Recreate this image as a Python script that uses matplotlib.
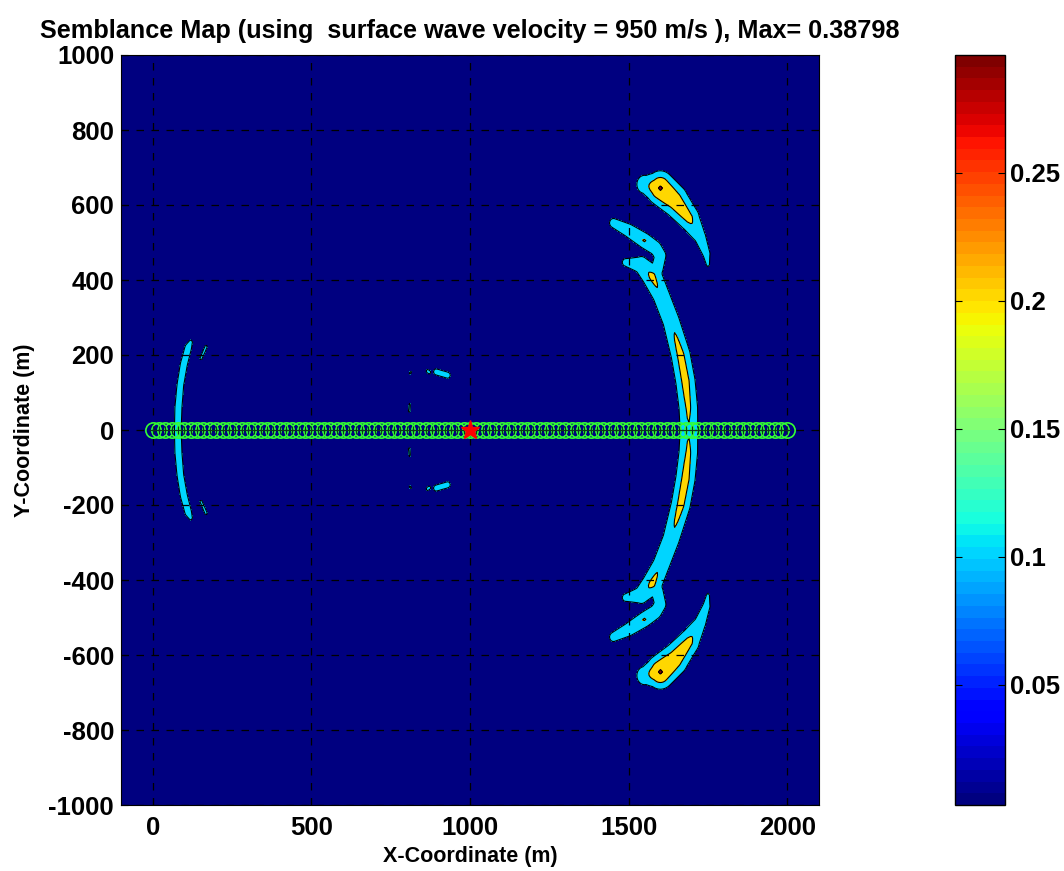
import numpy as np
import matplotlib
matplotlib.use('Agg')
import matplotlib.pyplot as plt
from matplotlib.colors import Normalize
from matplotlib.cm import ScalarMappable

# --- values (upper half, y >= 0; mirrored below) ---
# main arc trunk
trunk_x = [1690, 1688, 1679, 1664, 1634, 1602, 1574, 1540, 1490]
trunk_y = [0, 60, 130, 200, 290, 360, 410, 440, 447]
trunk_amp = [0.195, 0.21, 0.225, 0.22, 0.19, 0.19, 0.215, 0.17, 0.13]
trunk_sig = [24, 24, 24, 24, 23, 23, 25, 22, 14]

# hook branch leaving the trunk
branch_x = [1590, 1600, 1585, 1550, 1500, 1452]
branch_y = [430, 465, 485, 505, 532, 552]
branch_amp = [0.17, 0.16, 0.17, 0.205, 0.17, 0.14]
branch_sig = [18, 18, 18, 17, 17, 15]

# outer arc top right
outer_x = [1550, 1600, 1645, 1690, 1725, 1745, 1750]
outer_y = [655, 645, 612, 565, 515, 470, 440]
outer_amp = [0.16, 0.305, 0.255, 0.22, 0.15, 0.13, 0.11]
outer_sig = [25, 31, 31, 26, 20, 16, 11]

# left arc
left_x = [79, 81, 87, 98, 112, 120]
left_y = [0, 60, 120, 175, 220, 235]
left_amp = [0.14, 0.145, 0.14, 0.145, 0.14, 0.11]
left_sig = [13, 13, 13, 13, 13, 12]

# small streak right of left arc
streak_x = [152, 168]
streak_y = [190, 222]
streak_amp = [0.12, 0.125]
streak_sig = [6, 6]

# isolated specks near the source: start and end of each speck
speck_x0 = [893, 866, 811, 808, 809]
speck_x1 = [930, 872, 813, 810, 809]
speck_y0 = [155, 157, 150, 48, 15]
speck_y1 = [146, 154, 155, 68, 22]
speck_amp = [0.15, 0.125, 0.115, 0.12, 0.105]
speck_sig = [9, 7, 5, 5, 4]

background = 0.01
max_value = 0.38798
velocity = 950

receiver_spacing = 20
receiver_x = np.arange(0, 2000 + receiver_spacing, receiver_spacing)
source_x, source_y = 1000, 0

clim = (0.003, 0.296)
levels = [0.0, 0.1, 0.2, 0.3, 1.0]


def ridge(X, Y, xs, ys, amp, sig):
    out = np.zeros_like(X)
    for i in range(len(xs) - 1):
        x0, y0, x1, y1 = xs[i], ys[i], xs[i + 1], ys[i + 1]
        dx, dy = x1 - x0, y1 - y0
        t = np.clip(((X - x0) * dx + (Y - y0) * dy) / (dx * dx + dy * dy), 0, 1)
        d2 = (X - x0 - t * dx) ** 2 + (Y - y0 - t * dy) ** 2
        a = amp[i] + t * (amp[i + 1] - amp[i])
        s = sig[i] + t * (sig[i + 1] - sig[i])
        out = np.maximum(out, a * np.exp(-d2 / (2 * s * s)))
    return out


x = np.arange(-100, 2101, 5.0)
y = np.arange(-1000, 1001, 5.0)
X, Y = np.meshgrid(x, y)

S = np.full_like(X, background)
for yy in (Y, -Y):
    S = np.maximum(S, ridge(X, yy, trunk_x, trunk_y, trunk_amp, trunk_sig))
    S = np.maximum(S, ridge(X, yy, branch_x, branch_y, branch_amp, branch_sig))
    S = np.maximum(S, ridge(X, yy, outer_x, outer_y, outer_amp, outer_sig))
    S = np.maximum(S, ridge(X, yy, left_x, left_y, left_amp, left_sig))
    S = np.maximum(S, ridge(X, yy, streak_x, streak_y, streak_amp, streak_sig))
    for k in range(len(speck_amp)):
        S = np.maximum(S, ridge(X, yy, [speck_x0[k], speck_x1[k]], [speck_y0[k], speck_y1[k]],
                                [speck_amp[k]] * 2, [speck_sig[k]] * 2))

cmap = plt.get_cmap('jet', 64)
norm = Normalize(*clim)
fill_colors = [cmap(norm(max(lv, clim[0]))) for lv in levels[:-1]]

plt.rcParams['font.family'] = ['Liberation Sans', 'DejaVu Sans']
plt.rcParams['font.weight'] = 'bold'
plt.rcParams['axes.unicode_minus'] = False

fig = plt.figure(figsize=(10.64, 8.71), dpi=100)
ax = fig.add_axes([121 / 1064, 66 / 871, 698 / 1064, 750 / 871])
cax = fig.add_axes([955 / 1064, 66 / 871, 50 / 1064, 750 / 871])

ax.contourf(X, Y, S, levels=levels, colors=fill_colors)
ax.contour(X, Y, S, levels=levels[1:-1], colors='k', linewidths=0.8)

ax.plot(receiver_x, np.zeros_like(receiver_x), 'o', mfc='none', mec='#33ff33',
        ms=11, mew=1.2)
ax.plot(receiver_x, np.zeros_like(receiver_x), '+', color='#0a3a1a', ms=6, mew=0.8)
ax.plot(source_x, source_y, '*', color='red', ms=14)

ax.set_xlim(-100, 2100)
ax.set_ylim(-1000, 1000)
ax.set_xticks([0, 500, 1000, 1500, 2000])
ax.set_yticks(np.arange(-1000, 1001, 200))
ax.grid(True, color='k', linestyle=(0, (6, 6)), linewidth=0.9)
ax.tick_params(direction='in', labelsize=18.5, length=5, pad=5, top=False, right=False)
ax.tick_params(axis='x', pad=8)
ax.set_xlabel('X-Coordinate (m)', fontsize=15.5, fontweight='bold', labelpad=4)
ax.set_ylabel('Y-Coordinate (m)', fontsize=15.5, fontweight='bold', labelpad=10)
ax.set_title(f'Semblance Map (using  surface wave velocity = {velocity} m/s ), Max= {max_value}',
             fontsize=18.2, fontweight='bold', pad=12)

cb = fig.colorbar(ScalarMappable(norm=norm, cmap=cmap), cax=cax)
cb.set_ticks([0.05, 0.1, 0.15, 0.2, 0.25])
cb.set_ticklabels(['0.05', '0.1', '0.15', '0.2', '0.25'])
cax.tick_params(direction='in', labelsize=18.5, length=5, left=True, right=True)
cb.outline.set_linewidth(1)

fig.savefig('out.png', dpi=100)
